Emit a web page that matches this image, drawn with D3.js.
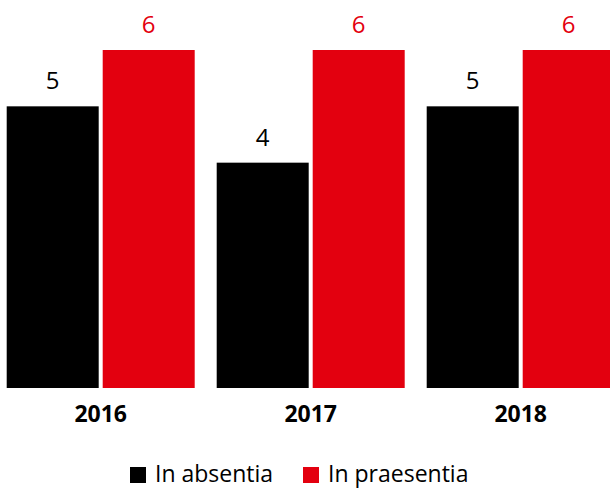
<!DOCTYPE html>
<html>
<head>
<meta charset="utf-8">
<script src="https://cdn.jsdelivr.net/npm/d3@7"></script>
<style>
  body { margin: 0; background: #fff; }
  svg { display: block; font-family: "Open Sans", sans-serif; }
</style>
</head>
<body>
<div id="chart"></div>
<script>
const years = ["2016", "2017", "2018"];
const seriesNames = ["In absentia", "In praesentia"];
const absentia = [5, 4, 5];
const praesentia = [6, 6, 6];
const colors = ["#000000", "#e3000f"];

const width = 610,
  height = 488;

const data = years.map((y, i) => ({ year: y, values: [absentia[i], praesentia[i]] }));

const x0 = d3.scaleBand()
  .domain(years)
  .range([6.7, 614.7])
  .paddingInner(22 / 210)
  .paddingOuter(0);

const x1 = d3.scaleBand()
  .domain([0, 1])
  .range([0, x0.bandwidth()])
  .paddingInner(4 / 96);

const y = d3.scaleLinear()
  .domain([0, 6])
  .range([388, 50]);

const svg = d3.select("#chart")
  .append("svg")
  .attr("width", width)
  .attr("height", height);

const groups = svg.append("g")
  .selectAll("g")
  .data(data)
  .join("g")
  .attr("transform", d => `translate(${x0(d.year)},0)`);

groups.selectAll("rect")
  .data(d => d.values)
  .join("rect")
  .attr("x", (d, i) => x1(i))
  .attr("y", d => y(d))
  .attr("width", x1.bandwidth())
  .attr("height", d => y(0) - y(d))
  .attr("fill", (d, i) => colors[i]);

groups.selectAll("text.val")
  .data(d => d.values)
  .join("text")
  .attr("class", "val")
  .attr("x", (d, i) => x1(i) + x1.bandwidth() / 2)
  .attr("y", d => y(d) - 17)
  .attr("text-anchor", "middle")
  .attr("font-size", 24)
  .attr("fill", (d, i) => colors[i])
  .text(d => d);

// year labels
svg.append("g")
  .selectAll("text")
  .data(years)
  .join("text")
  .attr("x", d => x0(d) + x0.bandwidth() / 2)
  .attr("y", 422)
  .attr("text-anchor", "middle")
  .attr("font-size", 23)
  .attr("font-weight", "bold")
  .text(d => d);

// legend
const legendX = [130, 303];
const legend = svg.append("g")
  .selectAll("g")
  .data(seriesNames)
  .join("g")
  .attr("transform", (d, i) => `translate(${legendX[i]},467)`);

legend.append("rect")
  .attr("width", 16)
  .attr("height", 16)
  .attr("fill", (d, i) => colors[i]);

legend.append("text")
  .attr("x", 25)
  .attr("y", 15)
  .attr("font-size", 23)
  .text(d => d);
</script>
</body>
</html>
